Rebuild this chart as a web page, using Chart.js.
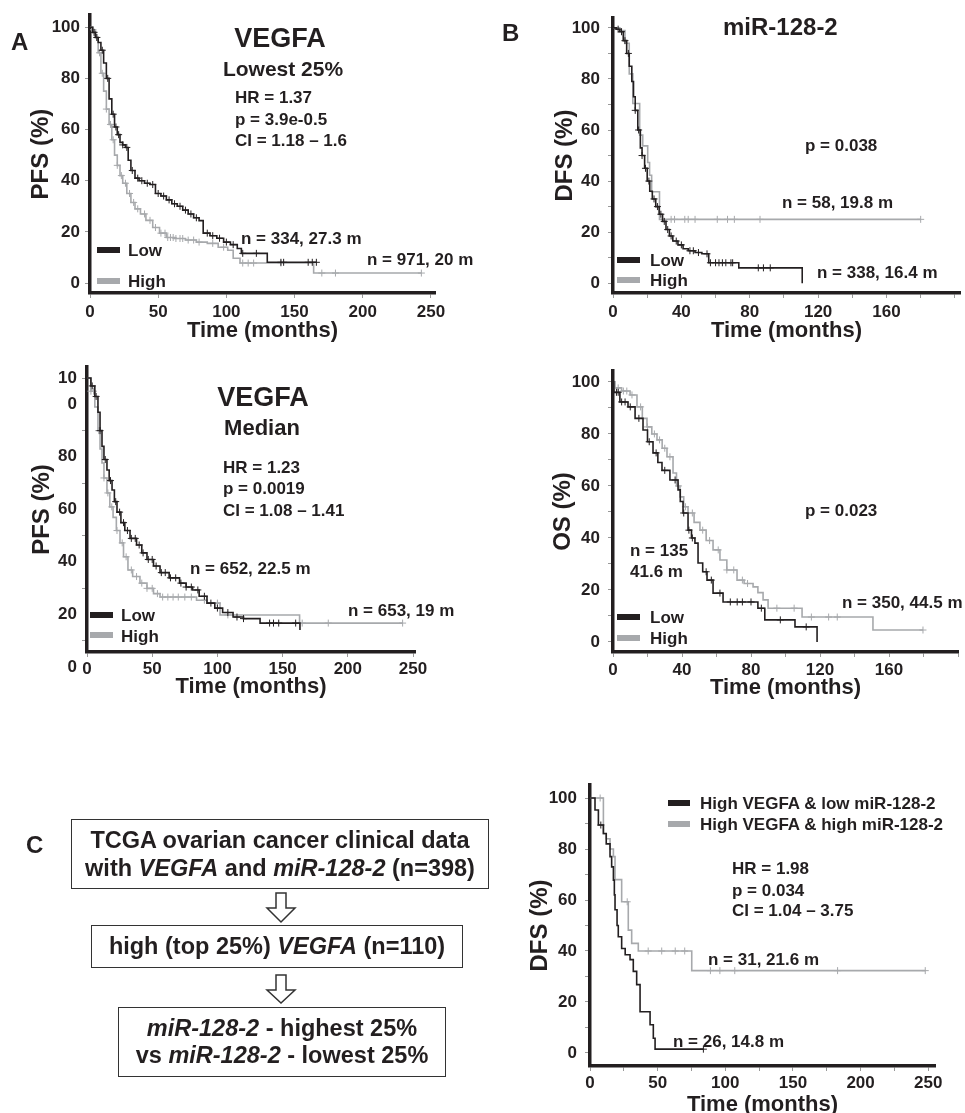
<!DOCTYPE html>
<html lang="en">
<head>
<meta charset="UTF-8">
<title>VEGFA / miR-128-2 survival</title>
<script src="https://cdn.jsdelivr.net/npm/chart.js"></script>
<style>
  html, body { margin: 0; padding: 0; background: #fff; overflow: hidden; }
  #page { position: relative; width: 965px; height: 1113px; overflow: hidden;
          font-family: "Liberation Sans", Arial, Helvetica, sans-serif; font-weight: bold; color: #231f20; }
  #page canvas { position: absolute; left: 0; top: 0; }
  .t { position: absolute; line-height: 1; white-space: nowrap; transform: translateY(-50%); }
  .c { transform: translate(-50%, -50%); }
  .sw { position: absolute; width: 23px; height: 6px; }
  .box { position: absolute; box-sizing: border-box; border: 1.5px solid #333; display: flex;
         align-items: center; justify-content: center; text-align: center; font-size: 23.5px; }
  .box i { font-style: italic; }
</style>
</head>
<body>
<div id="page">
  <canvas id="kmA" width="965" height="1130"></canvas>
  <canvas id="kmB" width="965" height="1130"></canvas>
  <canvas id="kmMed" width="965" height="1130"></canvas>
  <canvas id="kmOS" width="965" height="1130"></canvas>
  <canvas id="kmC" width="965" height="1130"></canvas>

  <!-- panel A -->
  <div class="t" style="left:11px;top:42px;font-size:24px">A</div>
  <div class="t c" style="left:280px;top:38px;font-size:27px">VEGFA</div>
  <div class="t c" style="left:283px;top:68px;font-size:21px">Lowest 25%</div>
  <div class="t" style="left:235px;top:97px;font-size:17px">HR = 1.37</div>
  <div class="t" style="left:235px;top:119px;font-size:17px">p = 3.9e-0.5</div>
  <div class="t" style="left:235px;top:140px;font-size:17px">CI = 1.18 – 1.6</div>
  <div class="t" style="left:241px;top:238px;font-size:17px">n = 334, 27.3 m</div>
  <div class="t" style="left:367px;top:259px;font-size:17px">n = 971, 20 m</div>
  <div class="sw" style="left:97px;top:247px;background:#231f20"></div>
  <div class="t" style="left:128px;top:250px;font-size:17px">Low</div>
  <div class="sw" style="left:97px;top:278px;background:#a7a9ac"></div>
  <div class="t" style="left:128px;top:281px;font-size:17px">High</div>

  <!-- panel B -->
  <div class="t" style="left:502px;top:33px;font-size:24px">B</div>
  <div class="t" style="left:723px;top:27px;font-size:24px">miR-128-2</div>
  <div class="t" style="left:805px;top:145px;font-size:17px">p = 0.038</div>
  <div class="t" style="left:782px;top:202px;font-size:17px">n = 58, 19.8 m</div>
  <div class="t" style="left:817px;top:272px;font-size:17px">n = 338, 16.4 m</div>
  <div class="sw" style="left:617px;top:257px;background:#231f20"></div>
  <div class="t" style="left:650px;top:260px;font-size:17px">Low</div>
  <div class="sw" style="left:617px;top:277px;background:#a7a9ac"></div>
  <div class="t" style="left:650px;top:280px;font-size:17px">High</div>

  <!-- panel A, median -->
  <div class="t c" style="left:263px;top:397px;font-size:27px">VEGFA</div>
  <div class="t c" style="left:262px;top:428px;font-size:22px">Median</div>
  <div class="t" style="left:223px;top:467px;font-size:17px">HR = 1.23</div>
  <div class="t" style="left:223px;top:488px;font-size:17px">p = 0.0019</div>
  <div class="t" style="left:223px;top:510px;font-size:17px">CI = 1.08 – 1.41</div>
  <div class="t" style="left:190px;top:568px;font-size:17px">n = 652, 22.5 m</div>
  <div class="t" style="left:348px;top:610px;font-size:17px">n = 653, 19 m</div>
  <div class="sw" style="left:90px;top:612px;background:#231f20"></div>
  <div class="t" style="left:121px;top:615px;font-size:17px">Low</div>
  <div class="sw" style="left:90px;top:632px;background:#a7a9ac"></div>
  <div class="t" style="left:121px;top:636px;font-size:17px">High</div>

  <!-- panel B, OS -->
  <div class="t" style="left:805px;top:510px;font-size:17px">p = 0.023</div>
  <div class="t" style="left:630px;top:550px;font-size:17px">n = 135</div>
  <div class="t" style="left:630px;top:571px;font-size:17px">41.6 m</div>
  <div class="t" style="left:842px;top:602px;font-size:17px">n = 350, 44.5 m</div>
  <div class="sw" style="left:617px;top:614px;background:#231f20"></div>
  <div class="t" style="left:650px;top:617px;font-size:17px">Low</div>
  <div class="sw" style="left:617px;top:635px;background:#a7a9ac"></div>
  <div class="t" style="left:650px;top:638px;font-size:17px">High</div>

  <!-- panel C -->
  <div class="t" style="left:26px;top:845px;font-size:24px">C</div>
  <div class="box" style="left:71px;top:819px;width:418px;height:70px;line-height:28px">
    <div>TCGA ovarian cancer clinical data<br>with <i>VEGFA</i> and <i>miR-128-2</i> (n=398)</div>
  </div>
  <div class="box" style="left:91px;top:925px;width:372px;height:43px">
    <div>high (top 25%) <i>VEGFA</i> (n=110)</div>
  </div>
  <div class="box" style="left:118px;top:1007px;width:328px;height:70px;line-height:27px">
    <div><i>miR-128-2</i> - highest 25%<br>vs <i>miR-128-2</i> - lowest 25%</div>
  </div>
  <svg style="position:absolute;left:0;top:0" width="965" height="1113">
    <polygon points="276,893 286,893 286,908 295,908 281,922 267,908 276,908" fill="#fff" stroke="#333" stroke-width="1.5"/>
    <polygon points="276,975 286,975 286,990 295,990 281,1003 267,990 276,990" fill="#fff" stroke="#333" stroke-width="1.5"/>
  </svg>
  <div class="sw" style="left:668px;top:800px;width:22px;background:#231f20"></div>
  <div class="t" style="left:700px;top:803px;font-size:17px">High VEGFA &amp; low miR-128-2</div>
  <div class="sw" style="left:668px;top:821px;width:22px;background:#a7a9ac"></div>
  <div class="t" style="left:700px;top:824px;font-size:17px">High VEGFA &amp; high miR-128-2</div>
  <div class="t" style="left:732px;top:868px;font-size:17px">HR = 1.98</div>
  <div class="t" style="left:732px;top:890px;font-size:17px">p = 0.034</div>
  <div class="t" style="left:732px;top:910px;font-size:17px">CI = 1.04 – 3.75</div>
  <div class="t" style="left:708px;top:959px;font-size:17px">n = 31, 21.6 m</div>
  <div class="t" style="left:673px;top:1041px;font-size:17px">n = 26, 14.8 m</div>
</div>

<script>
// ---- data (time in months, survival in %) ----
// A: VEGFA lowest 25%, PFS
const aLowT  = [0, 2, 4, 6, 8, 10, 12, 14, 16, 18, 20, 22, 24, 26, 28, 30, 33, 36, 40, 44, 48, 52, 56, 60, 64, 68, 72, 76, 80, 83, 88, 93, 98, 103, 108, 111, 130, 166];
const aLowS  = [100, 98, 96, 94, 91, 86, 80, 72, 66, 61, 58, 55, 54, 53, 48, 44, 41, 40, 39, 38.5, 35, 34, 32.5, 31, 30, 28.5, 27, 25.5, 24.4, 19.5, 18.5, 17.5, 16, 15, 13.5, 11.6, 8.1, 8.1];
const aLowCens = [3, 5, 9, 13, 17, 19, 21, 24, 27, 31, 35, 38, 42, 46, 50, 54, 58, 62, 66, 70, 74, 78, 86, 90, 95, 100, 105, 112, 122, 140, 142, 160, 163, 166];
const aHighT = [0, 2, 4, 6, 8, 10, 12, 14, 16, 18, 20, 22, 24, 27, 30, 33, 37, 41, 46, 51, 56, 62, 70, 78, 86, 94, 101, 105, 110, 164, 243];
const aHighS = [100, 99, 96, 90, 82, 75, 68, 62, 56, 50, 46, 42, 39, 35, 31.5, 29, 27, 24.5, 21.7, 19.5, 17.8, 17.4, 16.8, 16, 15.5, 14, 12.8, 9.7, 7.8, 3.9, 3.9];
const aHighCens = [2, 5, 7, 9, 12, 15, 17, 20, 23, 26, 29, 32, 35, 40, 44, 48, 52, 55, 57, 59, 61, 63, 66, 68, 72, 76, 80, 90, 98, 112, 116, 120, 140, 170, 180, 243];

// B: miR-128-2, DFS
const bLowT  = [0, 2, 4, 6, 8, 9.5, 11, 12, 13, 14.5, 16, 17, 18.5, 20, 21.5, 23, 25, 27, 29, 31, 33, 35, 38, 41, 44, 48, 52, 56, 73.6, 110.7];
const bLowS  = [100, 99.5, 98.5, 95, 90, 85, 79, 73, 67.7, 60, 53, 50, 45, 40, 36, 33, 30, 27, 24.2, 21, 18.5, 16.5, 15, 13.5, 12.7, 12, 11.5, 8, 6, 0];
const bLowCens = [3, 5, 7, 9, 13, 15, 17, 19, 21, 24, 26, 28, 30, 32, 34, 37, 40, 45, 47, 50, 55, 57, 60, 62, 64, 66, 69, 70, 85, 88, 92];
const bHighT = [0, 4, 7, 9.5, 11.6, 15.6, 17.4, 20.3, 21.4, 22.6, 27.2, 180];
const bHighS = [100, 99, 94, 82, 70.4, 58, 53.8, 47.3, 42.3, 35.8, 25, 25];
const bHighCens = [34, 36, 42, 44, 48, 61, 67, 71, 86, 180];

// A (lower): VEGFA median, PFS
const mLowT  = [0, 3, 6, 8.4, 10, 11.5, 13, 15.3, 17, 19.2, 21, 23, 26, 29, 33, 38, 42, 46, 51, 56, 63, 71, 76, 81, 86, 92, 98, 104, 112, 120, 132.7, 163.3];
const mLowS  = [100, 97, 93, 87, 80, 74, 69, 65, 61, 57.4, 53, 49, 45, 42, 39, 36.5, 33.5, 31, 28.5, 26, 24, 22, 20.5, 19.4, 17, 14.4, 12.5, 10.8, 9.1, 8.5, 6.8, 4.2];
const mLowCens = [4, 7, 10, 14, 18, 22, 25, 28, 31, 34, 37, 40, 43, 47, 50, 53, 57, 60, 64, 68, 72, 76, 80, 85, 90, 95, 100, 108, 115, 120, 140, 143, 147, 160];
const mHighT = [0, 3, 6, 8.4, 10, 11.5, 13, 15.3, 17.5, 20, 22.5, 25.3, 28, 31.4, 35, 40.6, 46, 51, 56, 76.7, 84, 92, 102, 163, 242];
const mHighS = [100, 95, 89, 80, 73, 67.7, 62, 56.3, 51, 47, 42, 37.3, 32, 27, 24.5, 22, 20, 18, 16.7, 16.7, 15.5, 14.4, 9.9, 6.8, 6.8];
const mHighCens = [3, 5, 9, 13, 16, 19, 23, 27, 30, 34, 38, 42, 46, 50, 54, 58, 62, 66, 70, 75, 80, 90, 100, 108, 165, 185, 242];

// B (lower): miR-128-2, OS
const oLowT  = [0, 0.5, 4, 8.7, 12.8, 17.4, 20, 23.2, 26, 28.4, 33, 37.7, 39, 40.6, 43.5, 45.5, 47.5, 49.3, 52, 54.5, 58, 63.8, 84, 88, 105.5, 118.3];
const oLowS  = [100, 96, 92.3, 90.4, 86, 81.5, 77, 72.7, 69, 66, 62.3, 58.5, 54, 49.6, 43, 40, 38, 30.4, 27, 23.8, 18.8, 15.4, 13, 8.5, 5.8, 0];
const oLowCens = [2, 3, 5, 7, 10, 15, 21, 25, 30, 36, 41, 44, 46, 54, 57, 62, 68, 72, 75, 80, 86, 97, 112];
const oHighT = [0, 1.2, 5, 9.9, 13.9, 17, 19.7, 22.5, 25.5, 28.5, 31.3, 34.8, 36.8, 38.8, 41, 43.5, 47, 50.4, 54, 58, 62, 66, 71.9, 76, 81.2, 84, 87, 89.9, 109.6, 150.7, 179.7];
const oHighS = [100, 97.7, 96.5, 95, 90.4, 86, 82.7, 80, 77.7, 74.5, 71.2, 65, 60, 55.8, 52, 49.6, 46, 43, 39, 35.4, 31.5, 27.7, 23.8, 22.5, 21.2, 19, 16.2, 13, 9.6, 4.6, 4.6];
const oHighCens = [3, 6, 8, 11, 16, 20, 24, 27, 30, 33, 38, 42, 46, 52, 56, 61, 66, 70, 75, 78, 95, 105, 115, 125, 130, 179.7];

// C: high VEGFA, low vs high miR-128-2, DFS
const cLowT  = [0, 3.7, 6.2, 9.9, 12, 14.8, 16, 17.3, 18, 18.5, 20, 20.9, 23.4, 26, 29.6, 32, 34.5, 37, 44.4, 46.8, 48.1, 83.8];
const cLowS  = [100, 95.3, 89.4, 86.1, 82, 77, 73, 67.8, 62, 56.2, 50, 45.6, 41, 38.5, 36.6, 32, 26.8, 16.2, 11.1, 5.8, 1.5, 1.5];
const cLowCens = [8, 83.8];
const cHighT = [0, 9.9, 12, 14.8, 17.3, 18.5, 23.4, 28.3, 30.8, 35.7, 75.2, 247.8];
const cHighS = [100, 86, 84, 80, 77, 68, 59.3, 48.2, 43, 40, 32.3, 32.3];
const cHighCens = [7.5, 27.5, 43, 53, 63, 70, 89, 96, 107, 183, 247.8];

// ticks
const survTicks = [0, 20, 40, 60, 80, 100];
const survTicksMinor = [0, 10, 20, 30, 40, 50, 60, 70, 80, 90, 100];
const time250Ticks = [0, 50, 100, 150, 200, 250];
const time250TicksMinor = [0, 25, 50, 75, 100, 125, 150, 175, 200, 225, 250];
const time160Ticks = [0, 20, 40, 60, 80, 100, 120, 140, 160, 180, 200];
const time160Labels = [0, 40, 80, 120, 160];

const FONT = '"Liberation Sans", Arial, Helvetica, sans-serif';
const DARK = '#231f20';
const GRAY = '#a7a9ac';
Chart.defaults.font.family = FONT;
Chart.defaults.font.weight = 'bold';
Chart.defaults.color = DARK;

function stepValue(ts, ss, t) {
  let v = ss[0];
  for (let i = 0; i < ts.length; i++) if (ts[i] <= t) v = ss[i];
  return v;
}
function curve(ts, ss) { return ts.map((t, i) => ({x: t, y: ss[i]})); }
function marks(ts, ss, cens) { return cens.map(t => ({x: t, y: stepValue(ts, ss, t)})); }

// "100" printed split in the median panel
const splitHundred = {
  id: 'splitHundred',
  afterDraw(chart) {
    const y = chart.scales.y, ctx = chart.ctx;
    ctx.save();
    ctx.font = 'bold 17px ' + FONT;
    ctx.fillStyle = DARK;
    ctx.textAlign = 'right';
    ctx.textBaseline = 'middle';
    ctx.fillText('10', y.right - 10, y.getPixelForValue(100));
    ctx.restore();
  }
};

function drawKM(id, p) {
  const W = 965, H = 1130;
  const tickGrid = {display: true, drawOnChartArea: false, drawTicks: true, tickLength: 5, color: '#999', lineWidth: 1};
  const border = {display: true, color: DARK, width: 3.5};
  return new Chart(document.getElementById(id), {
    type: 'line',
    data: {
      datasets: [
        {data: curve(p.low[0], p.low[1]), borderColor: DARK, borderWidth: 1.6, stepped: 'before', pointRadius: 0, fill: false},
        {type: 'scatter', data: marks(p.low[0], p.low[1], p.low[2]), pointStyle: 'cross', pointRadius: 3.5, borderColor: DARK, borderWidth: 1},
        {data: curve(p.high[0], p.high[1]), borderColor: GRAY, borderWidth: 1.6, stepped: 'before', pointRadius: 0, fill: false},
        {type: 'scatter', data: marks(p.high[0], p.high[1], p.high[2]), pointStyle: 'cross', pointRadius: 3.5, borderColor: GRAY, borderWidth: 1}
      ]
    },
    options: {
      responsive: false,
      animation: false,
      events: [],
      layout: {padding: {left: p.area[0] - p.yW, top: p.area[1], right: W - p.area[2], bottom: H - p.area[3] - p.xH}},
      plugins: {legend: {display: false}, tooltip: {enabled: false}},
      scales: {
        x: {
          type: 'linear', min: 0, max: p.xMax,
          afterFit: s => { s.height = p.xH; },
          afterBuildTicks: s => { s.ticks = p.xTicks.map(v => ({value: v})); },
          ticks: {autoSkip: false, maxRotation: 0, padding: p.xPad, font: {size: 17},
                  callback: v => p.xLabels.includes(v) ? String(v) : ''},
          grid: tickGrid, border: border,
          title: {display: true, text: 'Time (months)', font: {size: 22}, padding: 0}
        },
        y: {
          type: 'linear', min: p.yMin, max: p.yMax,
          afterFit: s => { s.width = p.yW; },
          afterBuildTicks: s => { s.ticks = p.yTicks.map(v => ({value: v})); },
          ticks: {autoSkip: false, padding: p.yPad, font: {size: 17}, labelOffset: p.yLabelOffset || 0,
                  callback: p.yCallback || (v => survTicks.includes(v) ? String(v) : '')},
          grid: tickGrid, border: border,
          title: {display: true, text: p.yTitle, font: {size: 24}, padding: 0}
        }
      }
    },
    plugins: p.plugins || []
  });
}

drawKM('kmA', {
  area: [90, 13, 435, 293], xMax: 253, yMin: -3.9, yMax: 104.7, yW: 63, xH: 51, xPad: 4, yPad: 5,
  xTicks: time250Ticks, xLabels: time250Ticks, yTicks: survTicks, yTitle: 'PFS (%)',
  low: [aLowT, aLowS, aLowCens], high: [aHighT, aHighS, aHighCens]
});
drawKM('kmB', {
  area: [613, 13, 963, 293], xMax: 203, yMin: -3.85, yMax: 103.8, yW: 62, xH: 51, xPad: 4, yPad: 8,
  xTicks: time160Ticks, xLabels: time160Labels, yTicks: survTicksMinor, yTitle: 'DFS (%)',
  low: [bLowT, bLowS, bLowCens], high: [bHighT, bHighS, bHighCens]
});
drawKM('kmMed', {
  area: [87, 367, 415, 652], xMax: 251.5, yMin: -4.2, yMax: 104.2, yW: 59, xH: 48, xPad: 2, yPad: 5,
  xTicks: time250Ticks, xLabels: time250Ticks, yTicks: survTicks, yTitle: 'PFS (%)',
  yLabelOffset: 26, yCallback: v => v === 100 ? '0' : String(v),
  low: [mLowT, mLowS, mLowCens], high: [mHighT, mHighS, mHighCens],
  plugins: [splitHundred]
});
drawKM('kmOS', {
  area: [613, 371, 958, 652], xMax: 200, yMin: -3.85, yMax: 104.2, yW: 64, xH: 49, xPad: 3, yPad: 8,
  xTicks: time160Ticks, xLabels: time160Labels, yTicks: survTicksMinor, yTitle: 'OS (%)',
  low: [oLowT, oLowS, oLowCens], high: [oHighT, oHighS, oHighCens]
});
drawKM('kmC', {
  area: [590, 785, 935, 1066], xMax: 255, yMin: -5.1, yMax: 105.1, yW: 64, xH: 52, xPad: 2, yPad: 8,
  xTicks: time250TicksMinor, xLabels: time250Ticks, yTicks: survTicksMinor, yTitle: 'DFS (%)',
  low: [cLowT, cLowS, cLowCens], high: [cHighT, cHighS, cHighCens]
});
</script>
</body>
</html>
